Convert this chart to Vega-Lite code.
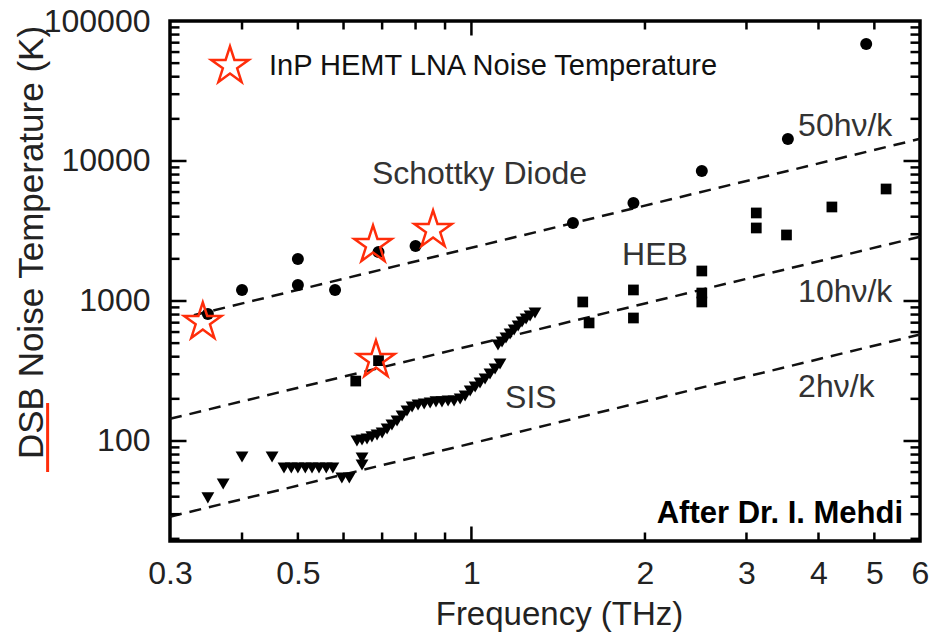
{
  "$schema": "https://vega.github.io/schema/vega-lite/v6.json",
  "width": 750,
  "height": 520,
  "autosize": {"type": "none"},
  "padding": {"left": 170, "top": 21, "right": 12, "bottom": 94},
  "background": "white",
  "config": {
    "view": {"stroke": "#000", "strokeWidth": 3.5},
    "axis": {"domain": false, "grid": false, "labelFlush": false, "labelOverlap": false}
  },
  "datasets": {
    "lines": [
      {"f": 0.33, "T": 792, "line": "50hv/k"},
      {"f": 6, "T": 14400, "line": "50hv/k"},
      {"f": 0.3, "T": 144, "line": "10hv/k"},
      {"f": 6, "T": 2880, "line": "10hv/k"},
      {"f": 0.3, "T": 28.8, "line": "2hv/k"},
      {"f": 6, "T": 576, "line": "2hv/k"}
    ],
    "schottky": [
      {"f": 0.349, "T": 807}, {"f": 0.40, "T": 1199}, {"f": 0.50, "T": 1995}, {"f": 0.50, "T": 1301},
      {"f": 0.58, "T": 1199}, {"f": 0.69, "T": 2239}, {"f": 0.80, "T": 2471}, {"f": 1.50, "T": 3606},
      {"f": 1.91, "T": 5012}, {"f": 2.51, "T": 8483}, {"f": 3.54, "T": 14360}, {"f": 4.84, "T": 68500}
    ],
    "heb": [
      {"f": 0.63, "T": 268}, {"f": 0.69, "T": 375}, {"f": 1.56, "T": 984}, {"f": 1.60, "T": 697},
      {"f": 1.91, "T": 1199}, {"f": 1.91, "T": 756}, {"f": 2.51, "T": 1638}, {"f": 2.51, "T": 1140},
      {"f": 2.51, "T": 984}, {"f": 3.12, "T": 4254}, {"f": 3.12, "T": 3323}, {"f": 3.52, "T": 2962},
      {"f": 4.22, "T": 4694}, {"f": 5.24, "T": 6310}
    ],
    "sis": [
      {"f": 0.349, "T": 39.2}, {"f": 0.371, "T": 49.3}, {"f": 0.400, "T": 76.9}, {"f": 0.451, "T": 76.9},
      {"f": 0.473, "T": 64.1}, {"f": 0.487, "T": 64.1}, {"f": 0.500, "T": 64.1}, {"f": 0.515, "T": 64.1},
      {"f": 0.529, "T": 64.1}, {"f": 0.544, "T": 64.1}, {"f": 0.560, "T": 64.1}, {"f": 0.575, "T": 64.1},
      {"f": 0.596, "T": 54.4}, {"f": 0.614, "T": 54.4}, {"f": 0.646, "T": 75.6}, {"f": 0.646, "T": 67.4},
      {"f": 0.633, "T": 100}, {"f": 0.646, "T": 101.6}, {"f": 0.659, "T": 103.3}, {"f": 0.672, "T": 106.9},
      {"f": 0.686, "T": 110.4}, {"f": 0.700, "T": 114.1}, {"f": 0.714, "T": 121.9}, {"f": 0.728, "T": 130.1},
      {"f": 0.743, "T": 138.9}, {"f": 0.758, "T": 150.9}, {"f": 0.773, "T": 163.8}, {"f": 0.789, "T": 174.9},
      {"f": 0.808, "T": 180.8}, {"f": 0.828, "T": 183.8}, {"f": 0.848, "T": 186.9}, {"f": 0.868, "T": 190.1},
      {"f": 0.889, "T": 190.1}, {"f": 0.911, "T": 193.1}, {"f": 0.933, "T": 193.1}, {"f": 0.956, "T": 199.5},
      {"f": 0.975, "T": 209.5}, {"f": 0.995, "T": 227.6}, {"f": 1.015, "T": 243.2}, {"f": 1.035, "T": 259.6},
      {"f": 1.056, "T": 277.3}, {"f": 1.077, "T": 301.2}, {"f": 1.099, "T": 326.6}, {"f": 1.121, "T": 354.8},
      {"f": 1.112, "T": 485.2}, {"f": 1.130, "T": 509.4}, {"f": 1.148, "T": 544.5}, {"f": 1.167, "T": 581},
      {"f": 1.186, "T": 620.9}, {"f": 1.205, "T": 662.7}, {"f": 1.224, "T": 707.9}, {"f": 1.244, "T": 743.8},
      {"f": 1.264, "T": 781.6}, {"f": 1.289, "T": 820.5}
    ],
    "hemt": [
      {"f": 0.342, "T": 708, "series": "InP HEMT LNA Noise Temperature"},
      {"f": 0.675, "T": 2512, "series": "InP HEMT LNA Noise Temperature"},
      {"f": 0.858, "T": 3215, "series": "InP HEMT LNA Noise Temperature"},
      {"f": 0.683, "T": 379, "series": "InP HEMT LNA Noise Temperature"}
    ],
    "annotations": [
      {"label": "Schottky Diode", "f": 0.672, "T": 8075},
      {"label": "HEB", "f": 1.825, "T": 2131},
      {"label": "SIS", "f": 1.144, "T": 202.8},
      {"label": "50hν/k", "f": 3.687, "T": 17783},
      {"label": "10hν/k", "f": 3.687, "T": 1159},
      {"label": "2hν/k", "f": 3.687, "T": 243}
    ],
    "credit": [{"label": "After Dr. I. Mehdi", "f": 5.607, "T": 30.1}],
    "mark": [{"f": 0.184, "T": 186.8, "T2": 60.05}],
    "xminor": [
      {"f": 0.4, "T": 19.3}, {"f": 0.5, "T": 19.3}, {"f": 0.6, "T": 19.3}, {"f": 0.7, "T": 19.3}, {"f": 0.8, "T": 19.3},
      {"f": 0.9, "T": 19.3}, {"f": 2, "T": 19.3}, {"f": 3, "T": 19.3}, {"f": 4, "T": 19.3}, {"f": 5, "T": 19.3},
      {"f": 0.4, "T": 100000}, {"f": 0.5, "T": 100000}, {"f": 0.6, "T": 100000}, {"f": 0.7, "T": 100000}, {"f": 0.8, "T": 100000},
      {"f": 0.9, "T": 100000}, {"f": 2, "T": 100000}, {"f": 3, "T": 100000}, {"f": 4, "T": 100000}, {"f": 5, "T": 100000}
    ],
    "xmajor": [{"f": 1, "T": 19.3}, {"f": 1, "T": 100000}],
    "yminor": [
      {"f": 0.3, "T": 20}, {"f": 0.3, "T": 30}, {"f": 0.3, "T": 40}, {"f": 0.3, "T": 50}, {"f": 0.3, "T": 60}, {"f": 0.3, "T": 70}, {"f": 0.3, "T": 80}, {"f": 0.3, "T": 90},
      {"f": 0.3, "T": 200}, {"f": 0.3, "T": 300}, {"f": 0.3, "T": 400}, {"f": 0.3, "T": 500}, {"f": 0.3, "T": 600}, {"f": 0.3, "T": 700}, {"f": 0.3, "T": 800}, {"f": 0.3, "T": 900},
      {"f": 0.3, "T": 2000}, {"f": 0.3, "T": 3000}, {"f": 0.3, "T": 4000}, {"f": 0.3, "T": 5000}, {"f": 0.3, "T": 6000}, {"f": 0.3, "T": 7000}, {"f": 0.3, "T": 8000}, {"f": 0.3, "T": 9000},
      {"f": 0.3, "T": 20000}, {"f": 0.3, "T": 30000}, {"f": 0.3, "T": 40000}, {"f": 0.3, "T": 50000}, {"f": 0.3, "T": 60000}, {"f": 0.3, "T": 70000}, {"f": 0.3, "T": 80000}, {"f": 0.3, "T": 90000},
      {"f": 6, "T": 20}, {"f": 6, "T": 30}, {"f": 6, "T": 40}, {"f": 6, "T": 50}, {"f": 6, "T": 60}, {"f": 6, "T": 70}, {"f": 6, "T": 80}, {"f": 6, "T": 90},
      {"f": 6, "T": 200}, {"f": 6, "T": 300}, {"f": 6, "T": 400}, {"f": 6, "T": 500}, {"f": 6, "T": 600}, {"f": 6, "T": 700}, {"f": 6, "T": 800}, {"f": 6, "T": 900},
      {"f": 6, "T": 2000}, {"f": 6, "T": 3000}, {"f": 6, "T": 4000}, {"f": 6, "T": 5000}, {"f": 6, "T": 6000}, {"f": 6, "T": 7000}, {"f": 6, "T": 8000}, {"f": 6, "T": 9000},
      {"f": 6, "T": 20000}, {"f": 6, "T": 30000}, {"f": 6, "T": 40000}, {"f": 6, "T": 50000}, {"f": 6, "T": 60000}, {"f": 6, "T": 70000}, {"f": 6, "T": 80000}, {"f": 6, "T": 90000}
    ],
    "ymajor": [
      {"f": 0.3, "T": 100}, {"f": 0.3, "T": 1000}, {"f": 0.3, "T": 10000},
      {"f": 6, "T": 100}, {"f": 6, "T": 1000}, {"f": 6, "T": 10000}
    ]
  },
  "resolve": {"axis": {"x": "independent", "y": "independent"}},
  "layer": [
    {
      "data": {"name": "lines"},
      "mark": {"type": "line", "strokeDash": [12, 8], "strokeWidth": 2.5, "color": "#111"},
      "encoding": {
        "x": {"field": "f", "type": "quantitative", "scale": {"type": "log", "domain": [0.3, 6], "nice": false},
          "axis": {"orient": "bottom", "values": [0.3, 0.5, 1, 2, 3, 4, 5, 6], "format": "~g", "ticks": false, "tickSize": 0, "labelFont": "Liberation Sans", "labelFontSize": 32, "labelColor": "#222", "labelPadding": 17,
            "title": "Frequency (THz)", "titleFont": "Liberation Sans", "titleFontSize": 33, "titleFontWeight": "normal", "titleColor": "#222", "titleX": 389, "titleY": 83, "titleBaseline": "alphabetic"}},
        "y": {"field": "T", "type": "quantitative", "scale": {"type": "log", "domain": [19.3, 100000], "nice": false},
          "axis": {"orient": "left", "values": [100, 1000, 10000, 100000], "format": "d", "ticks": false, "tickSize": 0, "labelFont": "Liberation Sans", "labelFontSize": 32, "labelColor": "#222", "labelPadding": 20, "labelBaseline": "middle",
            "title": "DSB Noise Temperature (K)", "titleFont": "Liberation Sans", "titleFontSize": 35, "titleFontWeight": "normal", "titleColor": "#222", "titleAngle": -90, "titleX": -128, "titleY": 221, "titleBaseline": "alphabetic", "titleAlign": "center"}},
        "detail": {"field": "line", "type": "nominal"}
      }
    },
    {
      "data": {"name": "xminor"},
      "mark": {"type": "tick", "orient": "vertical", "size": 17, "thickness": 2.5, "color": "#000", "opacity": 1, "clip": true},
      "encoding": {
        "x": {"field": "f", "type": "quantitative", "scale": {"type": "log", "domain": [0.3, 6], "nice": false}, "axis": null},
        "y": {"field": "T", "type": "quantitative", "scale": {"type": "log", "domain": [19.3, 100000], "nice": false}, "axis": null}
      }
    },
    {
      "data": {"name": "xmajor"},
      "mark": {"type": "tick", "orient": "vertical", "size": 29, "thickness": 2.5, "color": "#000", "opacity": 1, "clip": true},
      "encoding": {
        "x": {"field": "f", "type": "quantitative", "scale": {"type": "log", "domain": [0.3, 6], "nice": false}, "axis": null},
        "y": {"field": "T", "type": "quantitative", "scale": {"type": "log", "domain": [19.3, 100000], "nice": false}, "axis": null}
      }
    },
    {
      "data": {"name": "yminor"},
      "mark": {"type": "tick", "orient": "horizontal", "size": 19, "thickness": 2.5, "color": "#000", "opacity": 1, "clip": true},
      "encoding": {
        "x": {"field": "f", "type": "quantitative", "scale": {"type": "log", "domain": [0.3, 6], "nice": false}, "axis": null},
        "y": {"field": "T", "type": "quantitative", "scale": {"type": "log", "domain": [19.3, 100000], "nice": false}, "axis": null}
      }
    },
    {
      "data": {"name": "ymajor"},
      "mark": {"type": "tick", "orient": "horizontal", "size": 33, "thickness": 2.5, "color": "#000", "opacity": 1, "clip": true},
      "encoding": {
        "x": {"field": "f", "type": "quantitative", "scale": {"type": "log", "domain": [0.3, 6], "nice": false}, "axis": null},
        "y": {"field": "T", "type": "quantitative", "scale": {"type": "log", "domain": [19.3, 100000], "nice": false}, "axis": null}
      }
    },
    {
      "data": {"name": "schottky"},
      "mark": {"type": "point", "shape": "circle", "filled": true, "size": 144, "color": "#000", "opacity": 1},
      "encoding": {
        "x": {"field": "f", "type": "quantitative", "scale": {"type": "log", "domain": [0.3, 6], "nice": false}, "axis": null},
        "y": {"field": "T", "type": "quantitative", "scale": {"type": "log", "domain": [19.3, 100000], "nice": false}, "axis": null}
      }
    },
    {
      "data": {"name": "heb"},
      "mark": {"type": "point", "shape": "square", "filled": true, "size": 115, "color": "#000", "opacity": 1},
      "encoding": {
        "x": {"field": "f", "type": "quantitative", "scale": {"type": "log", "domain": [0.3, 6], "nice": false}, "axis": null},
        "y": {"field": "T", "type": "quantitative", "scale": {"type": "log", "domain": [19.3, 100000], "nice": false}, "axis": null}
      }
    },
    {
      "data": {"name": "sis"},
      "mark": {"type": "point", "shape": "triangle-down", "filled": true, "size": 165, "color": "#000", "opacity": 1},
      "encoding": {
        "x": {"field": "f", "type": "quantitative", "scale": {"type": "log", "domain": [0.3, 6], "nice": false}, "axis": null},
        "y": {"field": "T", "type": "quantitative", "scale": {"type": "log", "domain": [19.3, 100000], "nice": false}, "axis": null}
      }
    },
    {
      "data": {"name": "hemt"},
      "mark": {"type": "point", "shape": "M0,-1L0.2245,-0.309L0.9511,-0.309L0.3633,0.118L0.5878,0.809L0,0.382L-0.5878,0.809L-0.3633,0.118L-0.9511,-0.309L-0.2245,-0.309Z", "filled": false, "size": 1550, "strokeWidth": 2.5, "opacity": 1},
      "encoding": {
        "x": {"field": "f", "type": "quantitative", "scale": {"type": "log", "domain": [0.3, 6], "nice": false}, "axis": null},
        "y": {"field": "T", "type": "quantitative", "scale": {"type": "log", "domain": [19.3, 100000], "nice": false}, "axis": null},
        "color": {"field": "series", "type": "nominal", "scale": {"range": ["#ff2d0a"]},
          "legend": {"title": null, "orient": "none", "legendX": 39, "legendY": 24, "padding": 0,
            "symbolType": "M0,-1L0.2245,-0.309L0.9511,-0.309L0.3633,0.118L0.5878,0.809L0,0.382L-0.5878,0.809L-0.3633,0.118L-0.9511,-0.309L-0.2245,-0.309Z",
            "symbolSize": 1550, "symbolStrokeWidth": 2.5, "symbolFillColor": "transparent",
            "labelFont": "Liberation Sans", "labelFontSize": 29, "labelColor": "#111", "labelOffset": 18, "labelLimit": 700}}
      }
    },
    {
      "data": {"name": "annotations"},
      "mark": {"type": "text", "align": "left", "baseline": "middle", "fontSize": 32, "font": "Liberation Sans", "color": "#333"},
      "encoding": {
        "x": {"field": "f", "type": "quantitative", "scale": {"type": "log", "domain": [0.3, 6], "nice": false}, "axis": null},
        "y": {"field": "T", "type": "quantitative", "scale": {"type": "log", "domain": [19.3, 100000], "nice": false}, "axis": null},
        "text": {"field": "label"}
      }
    },
    {
      "data": {"name": "credit"},
      "mark": {"type": "text", "align": "right", "baseline": "middle", "fontSize": 31, "fontWeight": "bold", "font": "Liberation Sans", "color": "#000"},
      "encoding": {
        "x": {"field": "f", "type": "quantitative", "scale": {"type": "log", "domain": [0.3, 6], "nice": false}, "axis": null},
        "y": {"field": "T", "type": "quantitative", "scale": {"type": "log", "domain": [19.3, 100000], "nice": false}, "axis": null},
        "text": {"field": "label"}
      }
    },
    {
      "data": {"name": "mark"},
      "mark": {"type": "rule", "color": "#ff2d0a", "strokeWidth": 3},
      "encoding": {
        "x": {"field": "f", "type": "quantitative", "scale": {"type": "log", "domain": [0.3, 6], "nice": false}, "axis": null},
        "y": {"field": "T", "type": "quantitative", "scale": {"type": "log", "domain": [19.3, 100000], "nice": false}, "axis": null},
        "y2": {"field": "T2"}
      }
    }
  ]
}
